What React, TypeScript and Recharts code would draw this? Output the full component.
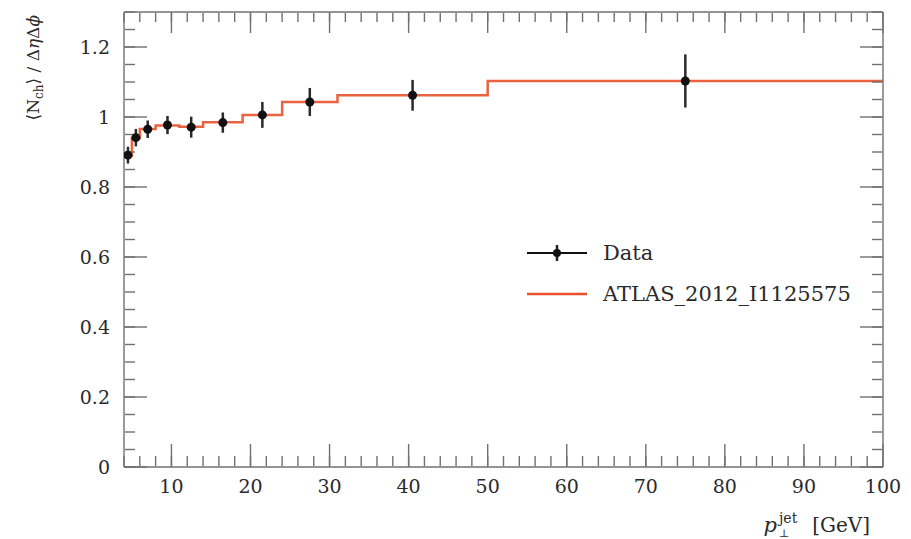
import React from "react";
import {
  ComposedChart,
  XAxis,
  YAxis,
  Line,
  Scatter,
  ErrorBar,
  Legend,
} from "recharts";

// bin edges of the leading track-jet pT histogram [GeV]
const binEdges = [4, 5, 6, 8, 11, 14, 19, 24, 31, 50, 100];

// measured points (black) and their vertical uncertainties
const dataValues = [0.891, 0.941, 0.965, 0.977, 0.971, 0.984, 1.006, 1.043, 1.062, 1.103];
const dataErrors = [0.024, 0.025, 0.025, 0.026, 0.03, 0.029, 0.037, 0.04, 0.044, 0.076];

// reference histogram (red step line)
const mcValues = [0.889, 0.94, 0.966, 0.976, 0.972, 0.985, 1.006, 1.043, 1.062, 1.103];

const dataName = "Data";
const mcName = "ATLAS_2012_I1125575";

const xMajorTicks = [10, 20, 30, 40, 50, 60, 70, 80, 90, 100];
const yMajorTicks = [0, 0.2, 0.4, 0.6, 0.8, 1, 1.2];
const xMinorTicks = Array.from({ length: 48 }, (_, i) => 4 + i * 2);
const yMinorTicks = Array.from({ length: 27 }, (_, i) => Math.round(i * 5) / 100);

const xDomain: [number, number] = [4, 100];
const yDomain: [number, number] = [0, 1.3];

const FONT = "'DejaVu Serif', serif";
const TEXT = "#2a2a2a";
const AXIS = "#707070";
const RED = "#e8512c";
const MAJOR = 23;
const MINOR = 10;

const points = dataValues.map((v, i) => ({
  x: (binEdges[i] + binEdges[i + 1]) / 2,
  y: v,
  err: dataErrors[i],
}));

const steps = binEdges.map((e, i) => ({
  x: e,
  y: mcValues[Math.min(i, mcValues.length - 1)],
}));

const YTitle = (props: any) => {
  const vb = props.viewBox || { x: 123, y: 12 };
  return (
    <text
      transform={`translate(${vb.x - 84},${vb.y + 3}) rotate(-90)`}
      textAnchor="end"
      fontFamily={FONT}
      fontSize={17}
      fill={TEXT}
    >
      ⟨N
      <tspan fontSize={12} dy={4}>ch</tspan>
      <tspan dy={-4}>⟩ / Δ</tspan>
      <tspan fontStyle="italic">η</tspan>Δ
      <tspan fontStyle="italic">ϕ</tspan>
    </text>
  );
};

const XTitle = (props: any) => {
  const vb = props.viewBox || { x: 124, y: 467, width: 759 };
  const right = vb.x + vb.width - 13;
  const base = vb.y + 65;
  return (
    <g fontFamily={FONT} fill={TEXT}>
      <text x={right - 93} y={base} textAnchor="end" fontSize={21} fontStyle="italic">
        p
      </text>
      <text x={right - 91} y={base - 9} fontSize={14}>
        jet
      </text>
      <text x={right - 91} y={base + 5} fontSize={11}>
        ⊥
      </text>
      <text x={right} y={base} textAnchor="end" fontSize={20}>
        [GeV]
      </text>
    </g>
  );
};

const renderLegend = () => (
  <div style={{ fontFamily: FONT, fontSize: 21, color: TEXT }}>
    <div style={{ display: "flex", alignItems: "center", height: 41 }}>
      <svg width={60} height={24}>
        <line x1={0} y1={12} x2={60} y2={12} stroke="#111" strokeWidth={2} />
        <line x1={30} y1={4} x2={30} y2={20} stroke="#222" strokeWidth={2.5} />
        <circle cx={30} cy={12} r={4} fill="#111" />
      </svg>
      <span style={{ marginLeft: 16 }}>{dataName}</span>
    </div>
    <div style={{ display: "flex", alignItems: "center", height: 41 }}>
      <svg width={60} height={24}>
        <line x1={0} y1={12} x2={60} y2={12} stroke={RED} strokeWidth={2.5} />
      </svg>
      <span style={{ marginLeft: 16 }}>{mcName}</span>
    </div>
  </div>
);

// draws no label, keeps the tick line
const NoLabel = () => <g />;

const frame = {
  type: "number" as const,
  allowDataOverflow: true,
  mirror: true,
  tick: <NoLabel />,
  interval: 0 as const,
  axisLine: { stroke: AXIS, strokeWidth: 1.4 },
  tickLine: { stroke: AXIS, strokeWidth: 1.4 },
};

const minor = { ...frame, axisLine: false };

const tickFont = { fontFamily: FONT, fontSize: 19, fill: TEXT };

export default function App() {
  return (
    <div style={{ position: "absolute", left: 0, top: 0 }}>
      <ComposedChart
        width={911}
        height={539}
        data={steps}
        margin={{ top: 12, right: 28, bottom: 71, left: 123 }}
      >
        {/* labelled axes */}
        <XAxis
          xAxisId="x"
          dataKey="x"
          type="number"
          orientation="bottom"
          height={1}
          domain={xDomain}
          allowDataOverflow
          ticks={xMajorTicks}
          interval={0}
          tick={tickFont}
          tickSize={0}
          tickMargin={13}
          tickLine={false}
          axisLine={false}
          label={XTitle}
        />
        <YAxis
          yAxisId="y"
          dataKey="y"
          type="number"
          orientation="left"
          width={1}
          domain={yDomain}
          allowDataOverflow
          ticks={yMajorTicks}
          interval={0}
          tick={tickFont}
          tickSize={0}
          tickMargin={14}
          tickLine={false}
          axisLine={false}
          label={YTitle}
        />

        {/* frame with inward ticks on all four sides */}
        <XAxis xAxisId="bMaj" dataKey="x" orientation="bottom" height={1} domain={xDomain} ticks={xMajorTicks} tickSize={MAJOR} {...frame} />
        <XAxis xAxisId="bMin" dataKey="x" orientation="bottom" height={1} domain={xDomain} ticks={xMinorTicks} tickSize={MINOR} {...minor} />
        <XAxis xAxisId="tMaj" dataKey="x" orientation="top" height={1} domain={xDomain} ticks={xMajorTicks} tickSize={MAJOR - 2} {...frame} />
        <XAxis xAxisId="tMin" dataKey="x" orientation="top" height={1} domain={xDomain} ticks={xMinorTicks} tickSize={MINOR - 1} {...minor} />
        <YAxis yAxisId="lMaj" orientation="left" width={1} domain={yDomain} ticks={yMajorTicks} tickSize={MAJOR} {...frame} />
        <YAxis yAxisId="lMin" orientation="left" width={1} domain={yDomain} ticks={yMinorTicks} tickSize={MINOR} {...minor} />
        <YAxis yAxisId="rMaj" orientation="right" width={1} domain={yDomain} ticks={yMajorTicks} tickSize={MAJOR} {...frame} />
        <YAxis yAxisId="rMin" orientation="right" width={1} domain={yDomain} ticks={yMinorTicks} tickSize={MINOR} {...minor} />

        <Scatter
          name={dataName}
          data={points}
          dataKey="y"
          xAxisId="x"
          yAxisId="y"
          fill="#111"
          isAnimationActive={false}
          shape={(p: any) => <circle cx={p.cx} cy={p.cy} r={4.5} fill="#111" />}
        >
          <ErrorBar
            dataKey="err"
            direction="y"
            width={0}
            stroke="#2a2a2a"
            strokeWidth={2.5}
            isAnimationActive={false}
          />
        </Scatter>
        <Line
          name={mcName}
          data={steps}
          dataKey="y"
          xAxisId="x"
          yAxisId="y"
          type="stepAfter"
          stroke={RED}
          strokeWidth={2.5}
          strokeOpacity={0.9}
          dot={false}
          activeDot={false}
          isAnimationActive={false}
        />

        <Legend
          layout="horizontal"
          verticalAlign="middle"
          align="center"
          content={renderLegend}
          wrapperStyle={{ left: 527, top: 232, width: 380 }}
        />
      </ComposedChart>
    </div>
  );
}
